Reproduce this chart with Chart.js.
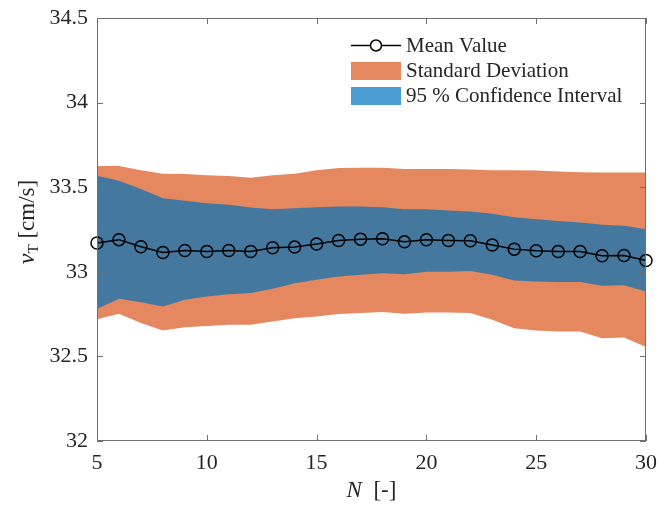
<!DOCTYPE html>
<html>
<head>
<meta charset="utf-8">
<script src="https://cdn.jsdelivr.net/npm/chart.js@4/dist/chart.umd.min.js"></script>
<style>
html,body{margin:0;padding:0;background:#fff;}
#wrap{width:670px;height:509px;position:relative;}
</style>
</head>
<body>
<div id="wrap"><canvas id="c" width="670" height="509"></canvas></div>
<script>
const N = [5,6,7,8,9,10,11,12,13,14,15,16,17,18,19,20,21,22,23,24,25,26,27,28,29,30];
const meanValue = [33.17,33.19,33.148,33.114,33.126,33.12,33.126,33.12,33.142,33.146,33.164,33.185,33.193,33.195,33.177,33.189,33.185,33.183,33.158,33.134,33.124,33.12,33.12,33.095,33.096,33.067];
const sdUpper = [33.626,33.626,33.60,33.58,33.578,33.571,33.566,33.556,33.57,33.58,33.60,33.613,33.615,33.615,33.607,33.607,33.607,33.605,33.60,33.60,33.598,33.593,33.588,33.587,33.587,33.587];
const sdLower = [32.72,32.752,32.697,32.653,32.673,32.68,32.687,32.687,32.706,32.726,32.736,32.75,32.756,32.762,32.752,32.76,32.76,32.756,32.716,32.667,32.653,32.647,32.647,32.608,32.612,32.555];
const ciUpper = [33.567,33.538,33.489,33.435,33.42,33.405,33.396,33.38,33.37,33.376,33.382,33.386,33.386,33.382,33.37,33.37,33.362,33.356,33.343,33.323,33.311,33.30,33.292,33.278,33.272,33.252];
const ciLower = [32.78,32.84,32.82,32.795,32.835,32.854,32.868,32.874,32.90,32.933,32.953,32.972,32.982,32.992,32.986,33.0,33.0,33.005,32.982,32.949,32.943,32.94,32.94,32.917,32.92,32.884];
const xTicks = [5,10,15,20,25,30];
const yTicks = [32,32.5,33,33.5,34,34.5];
const yTickLabels = ['32','32.5','33','33.5','34','34.5'];
const legendLabels = ['Mean Value','Standard Deviation','95 % Confidence Interval'];

const ORANGE = '#E5875F';
const BLUE_BAND = '#45789F';
const BLUE_LEG = '#4B9CD3';
const AXIS = '#6f6f6f';
const TEXT = '#262626';
const SERIF = '"Liberation Serif", "Times New Roman", serif';

const pts = arr => N.map((n,i)=>({x:n,y:arr[i]}));

const boxPlugin = {
  id:'boxTicks',
  afterDatasetsDraw(chart){
    const {ctx, chartArea:a, scales:{x,y}} = chart;
    ctx.save();
    ctx.strokeStyle = AXIS;
    ctx.lineWidth = 1;
    ctx.strokeRect(Math.round(a.left)+0.5, Math.round(a.top)+0.5, Math.round(a.right-a.left)-1, Math.round(a.bottom-a.top)-1);
    const L = 6;
    ctx.beginPath();
    xTicks.forEach(v=>{
      const px = Math.round(x.getPixelForValue(v))+0.5;
      ctx.moveTo(px,a.bottom); ctx.lineTo(px,a.bottom-L);
      ctx.moveTo(px,a.top); ctx.lineTo(px,a.top+L);
    });
    yTicks.forEach(v=>{
      const py = Math.round(y.getPixelForValue(v))+0.5;
      ctx.moveTo(a.left,py); ctx.lineTo(a.left+L,py);
      ctx.moveTo(a.right,py); ctx.lineTo(a.right-L,py);
    });
    ctx.stroke();
    ctx.restore();
  },
  afterDraw(chart){
    const {ctx, chartArea:a} = chart;
    ctx.save();
    ctx.fillStyle = TEXT;
    ctx.textBaseline = 'alphabetic';
    const t1 = 'N';
    ctx.font = 'italic 23px ' + SERIF; const w1 = ctx.measureText(t1).width;
    ctx.font = '23px ' + SERIF; const t2 = '  [-]'; const w2 = ctx.measureText(t2).width;
    const cx = (a.left+a.right)/2;
    let sx = cx - (w1+w2)/2;
    ctx.font = 'italic 23px ' + SERIF; ctx.fillText(t1, sx, 497);
    ctx.font = '23px ' + SERIF; ctx.fillText(t2, sx+w1, 497);
    ctx.translate(34, 222);
    ctx.rotate(-Math.PI/2);
    ctx.font = 'italic 24px ' + SERIF; const a1 = 'v'; const aw1 = ctx.measureText(a1).width;
    ctx.font = '15px ' + SERIF; const a2 = 'T'; const aw2 = ctx.measureText(a2).width;
    ctx.font = '23px ' + SERIF; const a3 = ' [cm/s]'; const aw3 = ctx.measureText(a3).width;
    let ox = -(aw1+aw2+aw3)/2;
    ctx.font = 'italic 24px ' + SERIF; ctx.fillText(a1, ox, 0);
    ctx.font = '15px ' + SERIF; ctx.fillText(a2, ox+aw1, 4);
    ctx.font = '23px ' + SERIF; ctx.fillText(a3, ox+aw1+aw2, 0);
    ctx.restore();

    ctx.save();
    ctx.font = '21px ' + SERIF;
    ctx.fillStyle = TEXT;
    ctx.textBaseline = 'middle';
    const lx = 351, lw = 50, tx = 406;
    ctx.strokeStyle = '#000'; ctx.lineWidth = 1.5;
    ctx.beginPath(); ctx.moveTo(lx,45.5); ctx.lineTo(lx+lw,45.5); ctx.stroke();
    ctx.fillStyle = '#fff';
    ctx.beginPath(); ctx.arc(lx+lw/2,45.5,5.5,0,Math.PI*2); ctx.fill(); ctx.stroke();
    ctx.fillStyle = TEXT;
    ctx.fillText(legendLabels[0], tx, 46);
    ctx.fillStyle = ORANGE; ctx.fillRect(lx, 62, lw, 18);
    ctx.fillStyle = TEXT; ctx.fillText(legendLabels[1], tx, 71);
    ctx.fillStyle = BLUE_LEG; ctx.fillRect(lx, 87, lw, 18);
    ctx.fillStyle = TEXT; ctx.fillText(legendLabels[2], tx, 96);
    ctx.restore();
  }
};

new Chart(document.getElementById('c'), {
  type:'line',
  data:{
    datasets:[
      {label:'SD upper', data:pts(sdUpper), fill:'+1', backgroundColor:ORANGE, borderWidth:0, pointRadius:0, order:4, tension:0},
      {label:'SD lower', data:pts(sdLower), fill:false, borderWidth:0, pointRadius:0, order:3, tension:0},
      {label:'CI upper', data:pts(ciUpper), fill:'+1', backgroundColor:BLUE_BAND, borderWidth:0, pointRadius:0, order:2, tension:0},
      {label:'CI lower', data:pts(ciLower), fill:false, borderWidth:0, pointRadius:0, order:1, tension:0},
      {label:legendLabels[0], data:pts(meanValue), fill:false, borderColor:'#000', borderWidth:1.5,
       pointRadius:6, pointBorderWidth:1.5, pointBorderColor:'#000', pointBackgroundColor:'rgba(0,0,0,0)',
       pointStyle:'circle', order:0, clip:false, tension:0}
    ]
  },
  options:{
    responsive:false,
    animation:false,
    devicePixelRatio:1,
    layout:{padding:{top:18,right:24,left:0,bottom:0}},
    plugins:{legend:{display:false}, tooltip:{enabled:false}},
    scales:{
      x:{type:'linear', min:5, max:30,
        grid:{display:false, drawTicks:false}, border:{display:false},
        afterBuildTicks(s){ s.ticks = xTicks.map(v=>({value:v})); },
        ticks:{color:TEXT, font:{family:SERIF, size:22}, padding:9, maxRotation:0},
        afterFit(s){ s.height = 68; }
      },
      y:{type:'linear', min:32, max:34.5,
        grid:{display:false, drawTicks:false}, border:{display:false},
        afterBuildTicks(s){ s.ticks = yTicks.map(v=>({value:v})); },
        ticks:{color:TEXT, font:{family:SERIF, size:22}, padding:9,
          callback:(v)=>{ const i = yTicks.indexOf(v); return i>=0 ? yTickLabels[i] : ''; }},
        afterFit(s){ s.width = 97; s.paddingTop = 0; s.paddingBottom = 0; }
      }
    }
  },
  plugins:[boxPlugin]
});
</script>
</body>
</html>
